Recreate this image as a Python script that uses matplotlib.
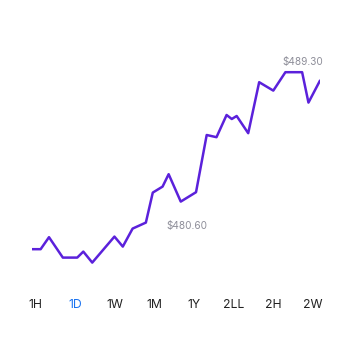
import matplotlib
matplotlib.use('Agg')
import matplotlib.pyplot as plt
import numpy as np

# time position (0-100) and price
t = [0.0, 3.1, 6.0, 10.8, 15.8, 17.9, 21.0, 28.7, 31.6, 35.0, 39.6, 42.0, 45.4,
     47.5, 51.7, 57.0, 60.7, 64.1, 67.6, 69.4, 71.1, 75.1, 78.9, 83.8, 88.0,
     93.8, 96.0, 100.0]
price = [480.54, 480.54, 481.14, 480.12, 480.12, 480.42, 479.87, 481.17, 480.67,
         481.57, 481.87, 483.37, 483.67, 484.29, 482.92, 483.39, 486.25, 486.14,
         487.25, 487.05, 487.20, 486.34, 488.89, 488.47, 489.39, 489.39, 487.87,
         488.97]

periods = ['1H', '1D', '1W', '1M', '1Y', '2LL', '2H', '2W']
active = '1D'
low_label = '$480.60'
high_label = '$489.30'

plt.rcParams['font.family'] = ['Inter', 'DejaVu Sans']

fig = plt.figure(figsize=(3.53, 3.61), dpi=100)
ax = fig.add_axes([0.0898, 0.2521, 0.8167, 0.5817])

ax.plot(t, price, color='#5b21db', lw=1.8, solid_joinstyle='round',
        solid_capstyle='round')

ax.text(53.8, 481.72, low_label, ha='center', va='center', fontsize=7.2, color='#8e8e99')
ax.text(94.1, 489.88, high_label, ha='center', va='center', fontsize=7.2, color='#8e8e99')

ax.set_xlim(0, 100)
ax.set_ylim(479.5, 490)
ax.set_xticks(np.linspace(1.23, 97.6, len(periods)))
ax.set_xticklabels(periods, fontsize=8.8)
for lab in ax.get_xticklabels():
    lab.set_color('#1a73f0' if lab.get_text() == active else '#222222')
ax.tick_params(axis='x', length=0, pad=21)
ax.set_yticks([])
for s in ax.spines.values():
    s.set_visible(False)

fig.savefig('out.png', dpi=100)
